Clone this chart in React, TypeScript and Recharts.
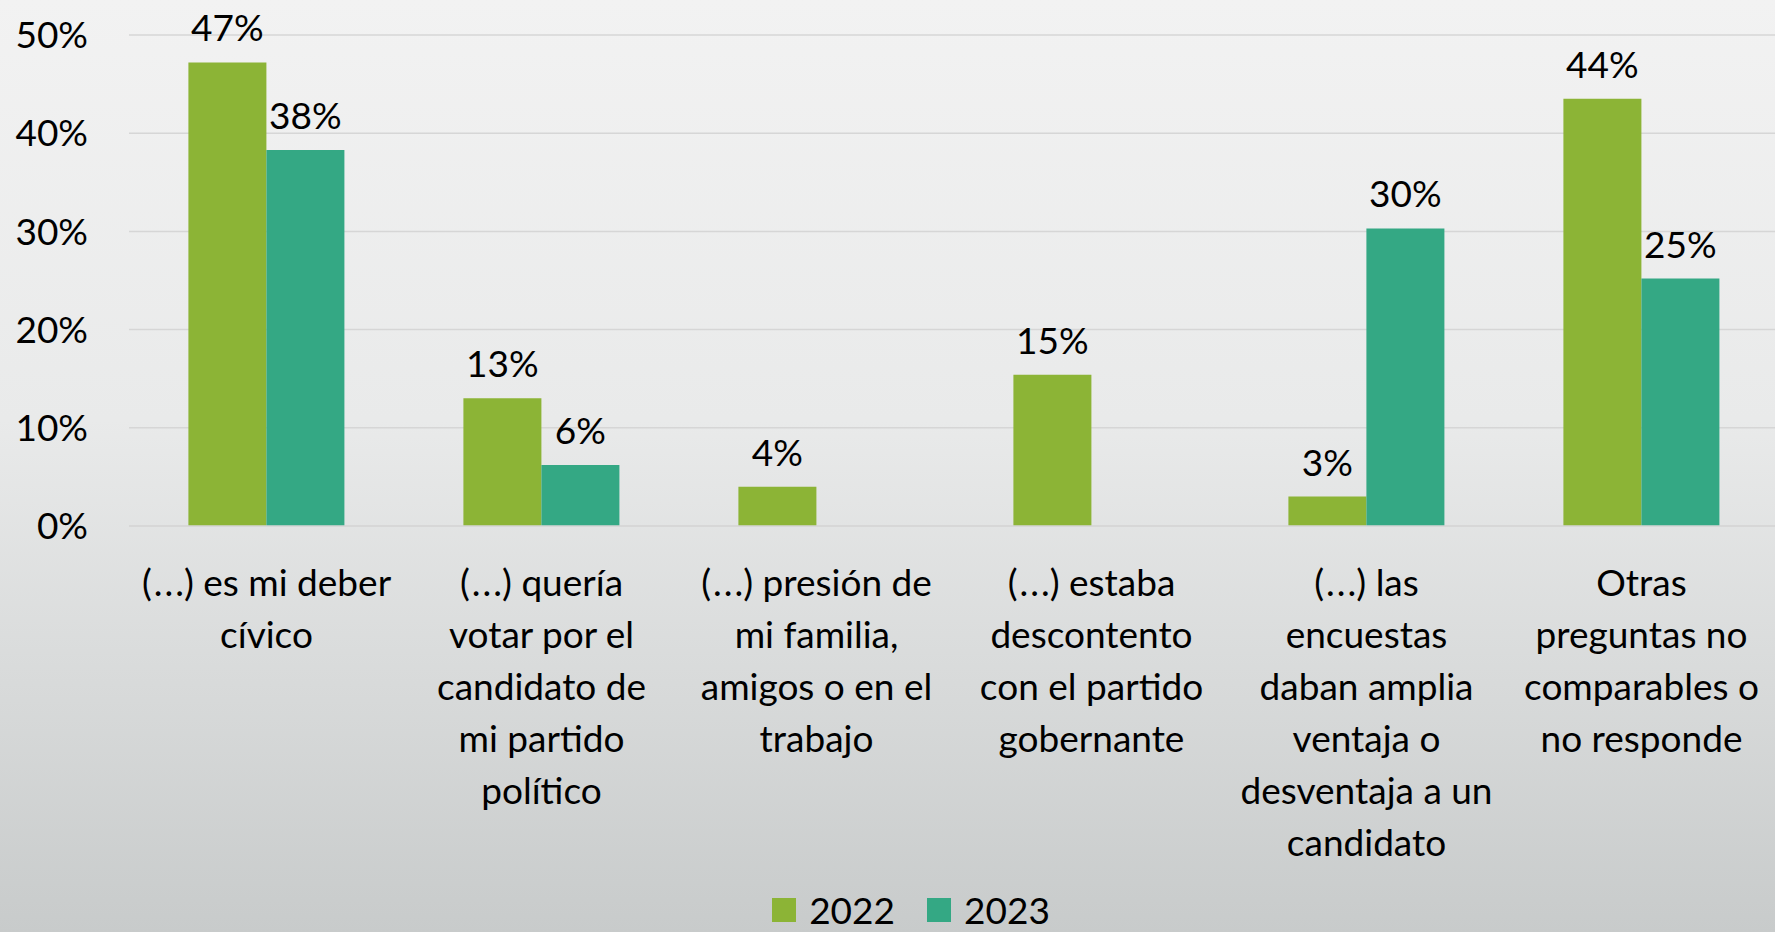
import React from "react";
import {
  BarChart,
  Bar,
  XAxis,
  YAxis,
  CartesianGrid,
  Legend,
  LabelList,
} from "recharts";

const categories = [
  ["(...) es mi deber", "cívico"],
  ["(...) quería", "votar por el", "candidato de", "mi partido", "político"],
  ["(...) presión de", "mi familia,", "amigos o en el", "trabajo"],
  ["(...) estaba", "descontento", "con el partido", "gobernante"],
  ["(...) las", "encuestas", "daban amplia", "ventaja o", "desventaja a un", "candidato"],
  ["Otras", "preguntas no", "comparables o", "no responde"],
];
const values2022 = [47.2, 13, 4, 15.4, 3, 43.5];
const values2023: (number | null)[] = [38.3, 6.2, null, null, 30.3, 25.2];
const yTicks = [0, 10, 20, 30, 40, 50];

const GREEN = "#8cb436";
const TEAL = "#34a884";
const FONT = "Lato, 'Open Sans', sans-serif";
const FS = 37;

const data = categories.map((lines, i) => ({
  name: lines.join(" "),
  y2022: values2022[i],
  y2023: values2023[i],
}));

// Lato squeezes the dots together, so space the "(...)" prefix out a little
const renderLine = (l: string) => {
  if (!l.startsWith("(...)")) return l;
  return (
    <>
      <tspan letterSpacing={2}>(..</tspan>
      <tspan>{l.slice(3)}</tspan>
    </>
  );
};

const CategoryTick = (props: any) => {
  const { x, y, index } = props;
  const lines = categories[index] || [];
  return (
    <text x={x} y={y} textAnchor="middle" fontFamily={FONT} fontSize={FS} fill="#000">
      {lines.map((l, i) => (
        <tspan key={i} x={x} dy={i === 0 ? 68 : 52}>
          {renderLine(l)}
        </tspan>
      ))}
    </text>
  );
};

const fmt = (v: any) => (v == null ? "" : `${Math.round(Number(v))}%`);

const LegendBox = () => (
  <div
    style={{
      height: 50,
      display: "flex",
      alignItems: "center",
      justifyContent: "center",
      paddingTop: 6,
      paddingLeft: 43,
      boxSizing: "border-box",
      fontFamily: FONT,
      fontSize: FS,
      color: "#000",
    }}
  >
    {[
      ["2022", GREEN],
      ["2023", TEAL],
    ].map(([label, color], i) => (
      <div key={label} style={{ display: "flex", alignItems: "center", marginLeft: i ? 32 : 0 }}>
        <span style={{ width: 24, height: 24, background: color, marginRight: 13, display: "inline-block" }} />
        <span style={{ lineHeight: "30px" }}>{label}</span>
      </div>
    ))}
  </div>
);

export default function App() {
  return (
    <div
      style={{
        width: 1775,
        height: 932,
        background: "linear-gradient(to bottom, #f2f2f2 0%, #e9eaea 45%, #c8cbcb 100%)",
      }}
    >
      <style>{`body{margin:0}`}</style>
      <BarChart
        width={1775}
        height={932}
        data={data}
        margin={{ top: 35, right: -4, left: 0, bottom: 0 }}
        barCategoryGap="21.6%"
        barGap={0}
      >
        <CartesianGrid vertical={false} stroke="#d6d6d6" strokeWidth={1.5} />
        <XAxis
          dataKey="name"
          height={356}
          tickLine={false}
          axisLine={{ stroke: "#d6d6d6", strokeWidth: 1.5 }}
          tickSize={0}
          tick={<CategoryTick />}
          interval={0}
        />
        <YAxis
          width={129}
          domain={[0, 50]}
          ticks={yTicks}
          tickFormatter={(v) => `${v}%`}
          axisLine={false}
          tickLine={false}
          tickSize={0}
          tickMargin={41}
          tick={{ fill: "#000", fontSize: FS, fontFamily: FONT }}
        />
        <Legend
          verticalAlign="bottom"
          wrapperStyle={{ height: 50 }}
          content={<LegendBox />}
        />
        <Bar dataKey="y2022" name="2022" fill={GREEN} isAnimationActive={false}>
          <LabelList
            dataKey="y2022"
            position="top"
            offset={21}
            formatter={fmt}
            style={{ fill: "#000", fontSize: FS, fontFamily: FONT }}
          />
        </Bar>
        <Bar dataKey="y2023" name="2023" fill={TEAL} isAnimationActive={false}>
          <LabelList
            dataKey="y2023"
            position="top"
            offset={21}
            formatter={fmt}
            style={{ fill: "#000", fontSize: FS, fontFamily: FONT }}
          />
        </Bar>
      </BarChart>
    </div>
  );
}
